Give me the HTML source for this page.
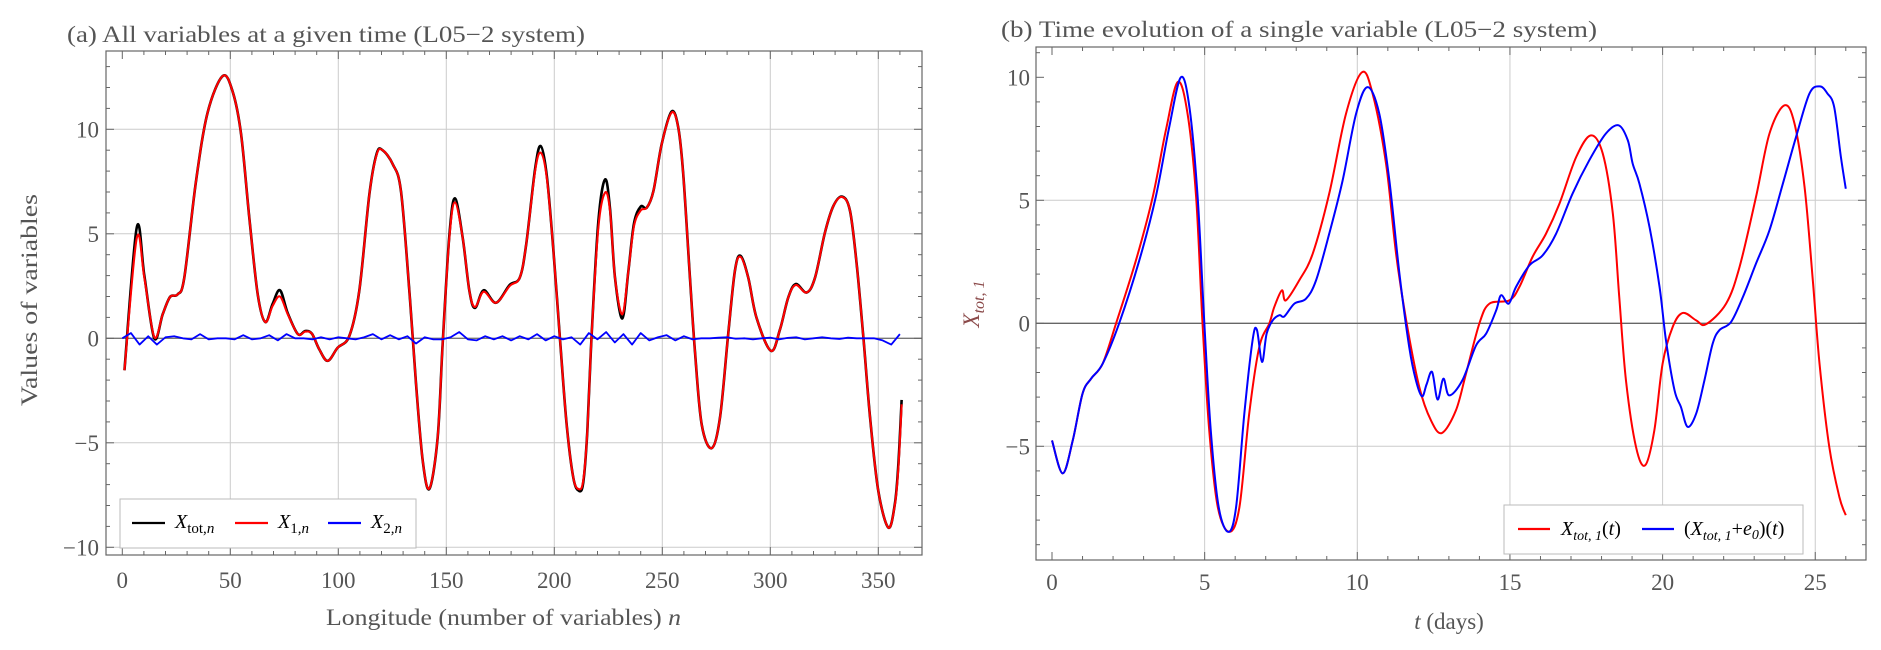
<!DOCTYPE html>
<html><head><meta charset="utf-8"><style>
html,body{margin:0;padding:0;background:#fff;}
svg{display:block;font-family:"Liberation Serif",serif;}
</style></head><body>
<svg id="root" width="1881" height="650" viewBox="0 0 1881 650" xmlns="http://www.w3.org/2000/svg">
<g id="pa"></g>
<g id="pb"></g>
</svg>
<script>
// ---------- Panel (a) data ----------
const aN  = [1,6.7,10.2,14.8,18.7,22.1,25.6,28.7,34.1,39.5,46.5,51.1,55,58.8,62.7,66.2,69.6,73,76.6,81.3,84.7,87.8,91.2,95.1,99.7,105.1,109.7,114.4,117.8,120.5,125.2,129,132.9,136,139.1,142.2,146,148.3,151.4,154,157.6,160.7,163.3,167.3,173,179.3,184,187,191.1,193.7,196.5,199.6,202.7,205.7,208.8,211.4,213.4,215.3,217.3,220.4,223.5,225.8,228.1,231.5,234.3,236.9,240,242.8,245.9,249.7,254.3,257.4,259.7,262.8,265.1,268.2,272.8,276.7,280.5,283.6,286.2,289.8,293.6,300.3,304.5,308.3,311.8,316.8,320.7,325.3,329.2,333.3,336.9,340,343.1,346.2,350,354.7,357.7,359.3,360.8];
const aX1 = [-1.53,4.8,2.9,0.06,1.15,1.98,2.1,2.9,7.5,10.8,12.55,11.8,9.76,5.77,2.1,0.78,1.55,2.0,1.15,0.2,0.32,0.22,-0.53,-1.08,-0.45,0.11,2.26,6.9,8.8,9.0,8.33,7.05,2.26,-2.2,-5.87,-7.18,-4.75,-0.29,4.8,6.5,4.8,2.26,1.5,2.23,1.7,2.5,2.9,4.5,8.0,8.88,7.7,4.18,-0.13,-4.1,-6.67,-7.22,-6.8,-4.43,0.19,5.3,6.97,6.1,2.9,1.15,3.22,5.37,6.12,6.25,7.05,9.28,10.8,10.08,7.85,2.9,-0.6,-4.1,-5.26,-3.8,0.19,3.22,3.9,2.9,0.99,-0.6,0.43,1.95,2.55,2.19,2.9,5.06,6.33,6.76,6.1,3.54,0.03,-3.8,-7.3,-9.06,-7.94,-6.19,-3.16];
const aXtot = [-1.53,5.3,3.0,0.0,1.15,1.98,2.1,2.9,7.5,10.8,12.55,11.8,9.76,5.77,2.1,0.78,1.65,2.3,1.2,0.2,0.35,0.22,-0.53,-1.08,-0.45,0.11,2.26,6.9,8.85,9.0,8.33,7.05,2.26,-2.2,-5.87,-7.2,-4.75,-0.29,4.9,6.7,4.8,2.26,1.45,2.3,1.7,2.55,2.9,4.5,8.1,9.2,7.8,4.18,-0.13,-4.1,-6.67,-7.3,-6.9,-4.43,0.19,5.6,7.6,6.2,2.9,0.95,3.22,5.5,6.3,6.25,7.05,9.28,10.85,10.08,7.85,2.9,-0.6,-4.1,-5.26,-3.8,0.19,3.22,3.95,2.9,0.99,-0.6,0.43,1.95,2.6,2.19,2.9,5.06,6.33,6.78,6.1,3.54,0.03,-3.8,-7.3,-9.06,-7.9,-6.0,-2.95];
const aN2Step = 4;
const aX2 = [0,0.25,-0.3,0.1,-0.3,0.05,0.1,0,-0.05,0.2,-0.05,0,0,-0.05,0.15,-0.05,0,0.15,-0.1,0.2,0,0,-0.05,0.05,-0.05,0.05,0,-0.05,0.05,0.2,-0.05,0.15,-0.05,0.1,-0.25,0.05,-0.05,-0.05,0.05,0.3,-0.05,-0.1,0.1,-0.05,0.1,-0.1,0.1,-0.05,0.2,-0.1,0.1,-0.05,0.05,-0.3,0.25,-0.05,0.3,-0.2,0.2,-0.3,0.25,-0.1,0.05,0.15,-0.1,0.1,-0.05,0,0,0.03,0.05,-0.02,0,-0.05,0,0.03,-0.05,0.02,0.05,-0.05,0,0.05,0,-0.03,0.03,0,0,0,-0.1,-0.3,0.2];
const aXTicks = [0,50,100,150,200,250,300,350];
const aYTicks = [-10,-5,0,5,10];

// ---------- Panel (b) data ----------
const bT1 = [0,0.35,0.68,1.0,1.28,1.66,2.1,2.75,3.3,3.73,4.12,4.44,4.72,4.93,5.15,5.43,5.81,6.14,6.46,6.79,7.12,7.28,7.53,7.66,8.1,8.54,9.08,9.63,10.15,10.5,10.94,11.27,11.6,12.03,12.41,12.77,13.23,13.56,14.0,14.33,14.98,15.31,15.74,16.18,16.62,17.17,17.65,18.04,18.37,18.58,18.8,19.13,19.43,19.73,20.0,20.33,20.66,21.1,21.42,22.08,22.52,23.06,23.5,23.99,24.32,24.65,24.92,25.14,25.46,25.79,26.0];
const bX1 = [-4.76,-6.1,-4.76,-2.86,-2.25,-1.64,0,2.56,5.14,7.85,9.81,8.52,5.14,0,-4.35,-7.47,-8.48,-7.47,-3.67,-0.96,0,0.66,1.34,0.93,1.75,2.83,5.27,8.52,10.2,9.34,6.5,2.83,0.12,-2.59,-3.94,-4.46,-3.54,-2.05,0,0.8,0.93,1.48,2.7,3.64,4.86,6.76,7.64,6.9,4.46,1.07,-2.32,-5.03,-5.77,-4.35,-1.64,-0.15,0.42,0.12,-0.04,0.8,2.29,5.14,7.71,8.86,8.12,5.54,1.75,-1.64,-5.03,-7.06,-7.8];
const bT2 = [0,0.35,0.68,1.0,1.28,1.66,2.2,2.86,3.4,3.84,4.22,4.5,4.77,4.99,5.2,5.46,5.78,6.03,6.3,6.57,6.71,6.88,7.03,7.23,7.45,7.61,7.94,8.32,8.65,9.08,9.52,9.96,10.34,10.72,11.05,11.38,11.7,11.92,12.12,12.27,12.45,12.63,12.82,13.01,13.44,13.89,14.22,14.55,14.71,14.96,15.2,15.64,16.07,16.51,17.05,17.6,18.14,18.56,18.86,19.02,19.24,19.57,19.9,20.11,20.39,20.6,20.82,21.1,21.37,21.64,21.86,22.24,22.63,23.06,23.5,23.94,24.37,24.81,25.15,25.4,25.62,25.84,26.0];
const bX2 = [-4.76,-6.1,-4.76,-2.86,-2.25,-1.64,0,2.56,5.14,7.98,10.0,8.8,5.14,0,-4.35,-7.47,-8.48,-7.47,-3.67,-0.69,-0.26,-1.57,-0.42,0.12,0.33,0.28,0.8,1.0,1.75,3.64,5.81,8.52,9.6,8.52,5.81,2.02,-0.96,-2.32,-2.97,-2.48,-1.98,-3.1,-2.25,-2.93,-2.32,-0.9,-0.42,0.53,1.14,0.8,1.48,2.36,2.76,3.64,5.27,6.63,7.71,8.05,7.44,6.49,5.68,3.92,1.48,-0.69,-2.72,-3.4,-4.21,-3.67,-2.32,-0.83,-0.28,0.05,1.07,2.43,3.78,5.68,7.57,9.34,9.63,9.34,8.79,6.76,5.47];
const bXTicks = [0,5,10,15,20,25];
const bYTicks = [-5,0,5,10];

const NS = "http://www.w3.org/2000/svg";
function mk(tag, attrs, parent){ const e=document.createElementNS(NS,tag); for(const k in attrs) e.setAttribute(k,attrs[k]); parent.appendChild(e); return e; }
function smoothPath(xs, ys){
  let d = "M"+xs[0].toFixed(2)+","+ys[0].toFixed(2);
  for(let i=0;i<xs.length-1;i++){
    const x0=xs[Math.max(i-1,0)], y0=ys[Math.max(i-1,0)];
    const x1=xs[i], y1=ys[i], x2=xs[i+1], y2=ys[i+1];
    const x3=xs[Math.min(i+2,xs.length-1)], y3=ys[Math.min(i+2,ys.length-1)];
    const c1x=x1+(x2-x0)/6, c1y=y1+(y2-y0)/6, c2x=x2-(x3-x1)/6, c2y=y2-(y3-y1)/6;
    d += " C"+c1x.toFixed(2)+","+c1y.toFixed(2)+" "+c2x.toFixed(2)+","+c2y.toFixed(2)+" "+x2.toFixed(2)+","+y2.toFixed(2);
  }
  return d;
}
function polyPath(xs, ys){ return xs.map((x,i)=>(i?"L":"M")+x.toFixed(2)+","+ys[i].toFixed(2)).join(" "); }

const TXT = "#555";
function frame(g, L, T, R, B, sx, sy, xMin, xMax, xMinor, xMajor, yMin, yMax, yMinor, yMajor){
  for(let v=Math.ceil(xMin/xMinor)*xMinor; v<=xMax+1e-9; v+=xMinor){
    const major = Math.abs(v/xMajor-Math.round(v/xMajor))<1e-6;
    const len = major?8:4; const x=sx(v);
    const t1=mk("line",{x1:x,x2:x,y1:B,y2:B-len,stroke:"#666","stroke-width":1},g);
    
    
    const t2=mk("line",{x1:x,x2:x,y1:T,y2:T+len,stroke:"#666","stroke-width":1},g);
    
    
  }
  for(let v=Math.ceil(yMin/yMinor)*yMinor; v<=yMax+1e-9; v+=yMinor){
    const major = Math.abs(v/yMajor-Math.round(v/yMajor))<1e-6;
    const len = major?8:4; const y=sy(v);
    const t1=mk("line",{x1:L,x2:L+len,y1:y,y2:y,stroke:"#666","stroke-width":1},g);
    
    
    const t2=mk("line",{x1:R,x2:R-len,y1:y,y2:y,stroke:"#666","stroke-width":1},g);
    
    
  }
  const f=mk("rect",{x:L,y:T,width:R-L,height:B-T,fill:"none",stroke:"#666","stroke-width":1.2},g);
  
  
}
function text(g, x, y, s, size, anchor, name, extra){
  const t=mk("text",Object.assign({x:x,y:y,"font-size":size,fill:TXT,"text-anchor":anchor||"start"},extra||{}),g);
  t.textContent=s;
  
  
  return t;
}

// ================= Panel A =================
(function(){
  const g=document.getElementById("pa");
  const L=106,R=922,T=51,B=555;
  const sx=v=>122.3+v*2.16, sy=v=>338.3-v*20.9;
  for(const v of aXTicks){ if(v===0) continue;
    const gl=mk("line",{x1:sx(v),x2:sx(v),y1:T,y2:B,stroke:"#ccc","stroke-width":1},g);
    
     }
  for(const v of aYTicks){
    const gl=mk("line",{x1:L,x2:R,y1:sy(v),y2:sy(v),stroke:v===0?"#777":"#ccc","stroke-width":v===0?1.3:1},g);
    
     }
  frame(g,L,T,R,B,sx,sy,-7,368,10,50,-10.8,13.7,1,5);
  for(const v of aXTicks) text(g,sx(v),588,String(v),23,"middle","x-tick-label");
  for(const v of aYTicks) text(g,99,sy(v)+8,(v<0?"\u2212":"")+Math.abs(v),23,"end","y-tick-label");
  const p1=mk("path",{d:smoothPath(aN.map(sx),aXtot.map(sy)),fill:"none",stroke:"#000","stroke-width":2.6,"stroke-linejoin":"round"},g);
  
  
  const p2=mk("path",{d:smoothPath(aN.map(sx),aX1.map(sy)),fill:"none",stroke:"#f00","stroke-width":2.1,"stroke-linejoin":"round"},g);
  
  
  const n2=aX2.map((_,i)=>i*aN2Step);
  const p3=mk("path",{d:polyPath(n2.map(sx),aX2.map(sy)),fill:"none",stroke:"#00f","stroke-width":1.8,"stroke-linejoin":"round"},g);
  
  
  // title & axis titles
  text(g,67,42,"(a) All variables at a given time (L05\u22122 system)",23,"start","panel-a-title",{textLength:518,lengthAdjust:"spacingAndGlyphs"});
  text(g,326,625,"Longitude (number of variables) ",23,"start","x-axis-title",{textLength:355,lengthAdjust:"spacingAndGlyphs"}).innerHTML='Longitude (number of variables) <tspan font-style="italic">n</tspan>';
  text(g,0,0,"Values of variables",23,"middle","y-axis-title",{transform:"translate(37,300) rotate(-90)",textLength:212,lengthAdjust:"spacingAndGlyphs"});
  // legend
  const lg=mk("g",{},g);
  
  
  const box=mk("rect",{x:120,y:499,width:296,height:49,fill:"#fff",stroke:"#bbb","stroke-width":1},lg);
  
  
  const ents=[["#000",132,'<tspan font-style="italic">X</tspan><tspan font-size="15" dy="5">tot,</tspan><tspan font-size="15" font-style="italic">n</tspan>',"legend-entry-xtot"],
              ["#f00",235,'<tspan font-style="italic">X</tspan><tspan font-size="15" dy="5">1,</tspan><tspan font-size="15" font-style="italic">n</tspan>',"legend-entry-x1"],
              ["#00f",328,'<tspan font-style="italic">X</tspan><tspan font-size="15" dy="5">2,</tspan><tspan font-size="15" font-style="italic">n</tspan>',"legend-entry-x2"]];
  for(const e of ents){
    const ln=mk("line",{x1:e[1],x2:e[1]+33,y1:523,y2:523,stroke:e[0],"stroke-width":2.2},lg);
    
    
    const t=mk("text",{x:e[1]+43,y:528,"font-size":20,fill:"#000"},lg);
    t.innerHTML=e[2];
    
    
  }
})();

// ================= Panel B =================
(function(){
  const g=document.getElementById("pb");
  const L=1036,R=1866,T=47,B=560;
  const sx=v=>1052+v*30.53, sy=v=>323.3-v*24.6;
  for(const v of bXTicks){ if(v===0) continue;
    const gl=mk("line",{x1:sx(v),x2:sx(v),y1:T,y2:B,stroke:"#ccc","stroke-width":1},g);
    
     }
  for(const v of [-5,0,5]){
    const gl=mk("line",{x1:L,x2:R,y1:sy(v),y2:sy(v),stroke:v===0?"#666":"#ccc","stroke-width":v===0?1.3:1},g);
    
     }
  frame(g,L,T,R,B,sx,sy,-0.5,26.7,1,5,-9.6,11.2,1,5);
  for(const v of bXTicks) text(g,sx(v),590,String(v),23,"middle","x-tick-label");
  for(const v of bYTicks) text(g,1030,sy(v)+8,(v<0?"\u2212":"")+Math.abs(v),23,"end","y-tick-label");
  const p1=mk("path",{d:smoothPath(bT1.map(sx),bX1.map(sy)),fill:"none",stroke:"#f00","stroke-width":2,"stroke-linejoin":"round"},g);
  
  
  const p2=mk("path",{d:smoothPath(bT2.map(sx),bX2.map(sy)),fill:"none",stroke:"#00f","stroke-width":2,"stroke-linejoin":"round"},g);
  
  
  text(g,1001,37,"(b) Time evolution of a single variable (L05\u22122 system)",23,"start","panel-b-title",{textLength:596,lengthAdjust:"spacingAndGlyphs"});
  const xt=text(g,1449,629,"t (days)",23,"middle","x-axis-title");
  xt.innerHTML='<tspan font-style="italic">t</tspan> (days)';
  const yt=text(g,0,0,"X",23,"middle","y-axis-title",{transform:"translate(979,304) rotate(-90)",fill:"#8b4a4a"});
  yt.innerHTML='<tspan font-style="italic">X</tspan><tspan font-size="16" font-style="italic" dy="5">tot, 1</tspan>';
  const lg=mk("g",{},g);
  
  
  const box=mk("rect",{x:1504,y:505,width:299,height:49,fill:"#fff",stroke:"#bbb","stroke-width":1},lg);
  
  
  const l1=mk("line",{x1:1518,x2:1550,y1:529,y2:529,stroke:"#f00","stroke-width":2.2},lg);
  
  
  const t1=mk("text",{x:1561,y:535,"font-size":20,fill:"#000","font-style":"italic"},lg);
  t1.innerHTML='X<tspan font-size="14" dy="5">tot, 1</tspan><tspan dy="-5" font-style="normal">(</tspan>t<tspan font-style="normal">)</tspan>';
  
  
  const l2=mk("line",{x1:1642,x2:1674,y1:529,y2:529,stroke:"#00f","stroke-width":2.2},lg);
  
  
  const t2=mk("text",{x:1684,y:535,"font-size":20,fill:"#000","font-style":"italic"},lg);
  t2.innerHTML='<tspan font-style="normal">(</tspan>X<tspan font-size="14" dy="5">tot, 1</tspan><tspan dy="-5" font-style="normal">+</tspan>e<tspan font-size="14" dy="4">0</tspan><tspan dy="-4" font-style="normal">)(</tspan>t<tspan font-style="normal">)</tspan>';
  
  
})();
</script>
</body></html>
